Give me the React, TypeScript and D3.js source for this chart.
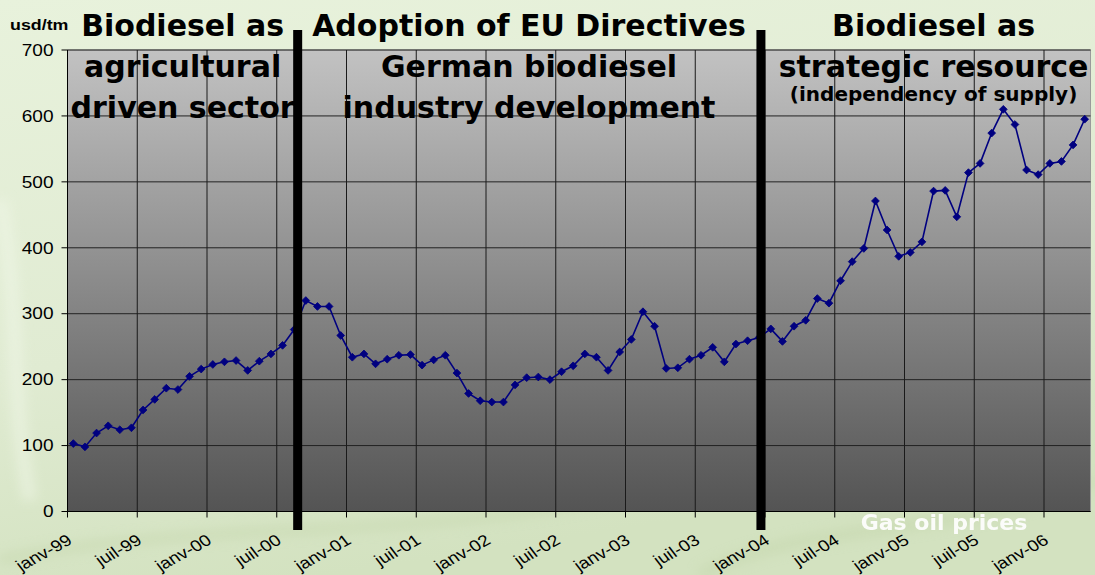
import React from "react";
import * as d3 from "d3";

// ---- data ----
const tickLabels = [
  "janv-99", "juil-99", "janv-00", "juil-00", "janv-01", "juil-01", "janv-02", "juil-02",
  "janv-03", "juil-03", "janv-04", "juil-04", "janv-05", "juil-05", "janv-06",
];
// monthly gas oil prices, janv-99 .. avr-06 (usd/tm)
const prices = [
  103, 98, 119, 130, 124, 127, 154, 170, 187, 185, 205, 216,
  223, 227, 229, 214, 228, 239, 252, 276, 320, 311, 311, 267,
  234, 239, 224, 231, 237, 238, 222, 230, 237, 210, 179, 168,
  166, 166, 192, 203, 204, 200, 212, 221, 239, 234, 214, 242,
  261, 303, 281, 217, 218, 231, 237, 249, 227, 254, 259, 264,
  277, 258, 281, 290, 323, 316, 350, 379, 399, 471, 427, 387,
  393, 409, 486, 487, 447, 514, 528, 574, 610, 587, 518, 511,
  528, 531, 556, 595,
];
const yTicks = [0, 100, 200, 300, 400, 500, 600, 700];
const phaseBreaks = [19.8, 59.65]; // in months from janv-99
const phaseTitles = [
  { lines: ["Biodiesel as", "agricultural", "driven sector"], center: 9.9 },
  { lines: ["Adoption of EU Directives", "German biodiesel", "industry development"], center: 39.7 },
  { lines: ["Biodiesel as", "strategic resource", "(independency of supply)"], center: 74.5 },
];

const W = 1095;
const H = 575;
const L = 67.5;
const R = 1090.5;
const T = 50;
const B = 511.5;
const STRETCH = 1.19;

export default function App() {
  React.useEffect(() => {
    document.body.style.margin = "0";
  }, []);

  const n = prices.length;
  const x = d3.scaleBand<number>().domain(d3.range(n)).range([L, R]).padding(0);
  const bw = x.bandwidth();
  const mpos = d3.scaleLinear().domain([0, n]).range([L, R]);
  const y = d3.scaleLinear().domain([0, 700]).range([B, T]);

  const line = d3
    .line<number>()
    .x((_, i) => (x(i) as number) + bw / 2)
    .y((d) => y(d));

  const diamond = d3.symbol().type(d3.symbolSquare).size(30)() as string;

  const tickIdx = tickLabels.map((_, k) => k * 6);

  return (
    <svg width={W} height={H} style={{ position: "absolute", left: 0, top: 0, display: "block" }}>
      <defs>
        <linearGradient id="bg" x1="0" y1="0" x2="0.3" y2="1">
          <stop offset="0" stopColor="#e8f2dc" />
          <stop offset="0.6" stopColor="#e0ebd2" />
          <stop offset="1" stopColor="#d3e2c0" />
        </linearGradient>
        <linearGradient id="plot" x1="0" y1="0" x2="0" y2="1">
          <stop offset="0" stopColor="#c2c2c2" />
          <stop offset="1" stopColor="#545454" />
        </linearGradient>
        <filter id="blur">
          <feGaussianBlur stdDeviation="6" />
        </filter>
      </defs>
      <rect x={0} y={0} width={W} height={H} fill="url(#bg)" />
      <g filter="url(#blur)" opacity={0.5}>
        <path d="M0,560 C200,520 400,540 600,500" stroke="#c4d6ac" strokeWidth={10} fill="none" />
        <path d="M700,575 C800,520 950,540 1095,480" stroke="#c4d6ac" strokeWidth={12} fill="none" />
        <path d="M0,200 C20,300 10,400 30,500" stroke="#f2f8ea" strokeWidth={14} fill="none" />
      </g>

      {/* plot area */}
      <rect x={L} y={T} width={R - L} height={B - T} fill="url(#plot)" stroke="#9a9a9a" strokeWidth={1} />

      {/* horizontal gridlines */}
      {yTicks.map((t) => (
        <line key={"h" + t} x1={L} x2={R} y1={y(t)} y2={y(t)} stroke="#222" strokeWidth={1} />
      ))}
      {/* vertical gridlines */}
      {tickIdx.slice(1).map((i) => (
        <line key={"v" + i} x1={x(i)} x2={x(i)} y1={T} y2={B} stroke="#1a1a1a" strokeWidth={1} />
      ))}

      {/* axes */}
      <line x1={L} x2={L} y1={T} y2={B} stroke="#000" strokeWidth={1} />
      <line x1={L} x2={R} y1={B} y2={B} stroke="#000" strokeWidth={1} />
      {yTicks.map((t) => (
        <g key={"yt" + t}>
          <line x1={L - 6} x2={L} y1={y(t)} y2={y(t)} stroke="#000" />
          <text
            transform={`translate(${L - 14},${y(t)}) scale(${STRETCH},1)`}
            dy="0.36em"
            textAnchor="end"
            fontFamily="'Liberation Sans', Arial, sans-serif"
            fontSize={16}
            fill="#000"
          >
            {t}
          </text>
        </g>
      ))}
      {tickIdx.map((i, k) => (
        <g key={"xt" + i}>
          <line x1={x(i)} x2={x(i)} y1={B} y2={B + 6} stroke="#000" />
          <text
            transform={`translate(${(x(i) as number) + 6},${543}) scale(${STRETCH},1) rotate(-33)`}
            textAnchor="end"
            fontFamily="'Liberation Sans', Arial, sans-serif"
            fontSize={16}
            fill="#000"
          >
            {tickLabels[k]}
          </text>
        </g>
      ))}
      <text
        transform={`translate(10,30) scale(${STRETCH},1)`}
        fontFamily="'Liberation Sans', Arial, sans-serif"
        fontWeight="bold"
        fontSize={15}
        fill="#000"
      >
        usd/tm
      </text>

      {/* series */}
      <path d={line(prices) as string} fill="none" stroke="#000080" strokeWidth={1.6} />
      {prices.map((v, i) => (
        <path
          key={"m" + i}
          d={diamond}
          transform={`translate(${(x(i) as number) + bw / 2},${y(v)}) rotate(45)`}
          fill="#000080"
          stroke="#000080"
          strokeWidth={0.8}
        />
      ))}

      {/* phase dividers */}
      {phaseBreaks.map((m) => (
        <rect key={"pb" + m} x={mpos(m) - 4.5} y={30} width={9} height={500} fill="#000" />
      ))}

      {/* phase titles */}
      {phaseTitles.map((p, k) => (
        <g key={"pt" + k} fontFamily="'DejaVu Sans', Verdana, sans-serif" fontWeight="bold" fill="#000" textAnchor="middle">
          <text x={mpos(p.center)} y={36} fontSize={30}>{p.lines[0]}</text>
          <text x={mpos(p.center)} y={77} fontSize={30}>{p.lines[1]}</text>
          {k < 2 ? (
            <text x={mpos(p.center)} y={118} fontSize={30}>{p.lines[2]}</text>
          ) : (
            <text x={mpos(p.center)} y={101} fontSize={20}>{p.lines[2]}</text>
          )}
        </g>
      ))}

      <text
        x={944}
        y={530}
        textAnchor="middle"
        fontFamily="'DejaVu Sans', Verdana, sans-serif"
        fontWeight="bold"
        fontSize={22}
        fill="#ffffff"
        opacity={0.92}
      >
        Gas oil prices
      </text>
    </svg>
  );
}
